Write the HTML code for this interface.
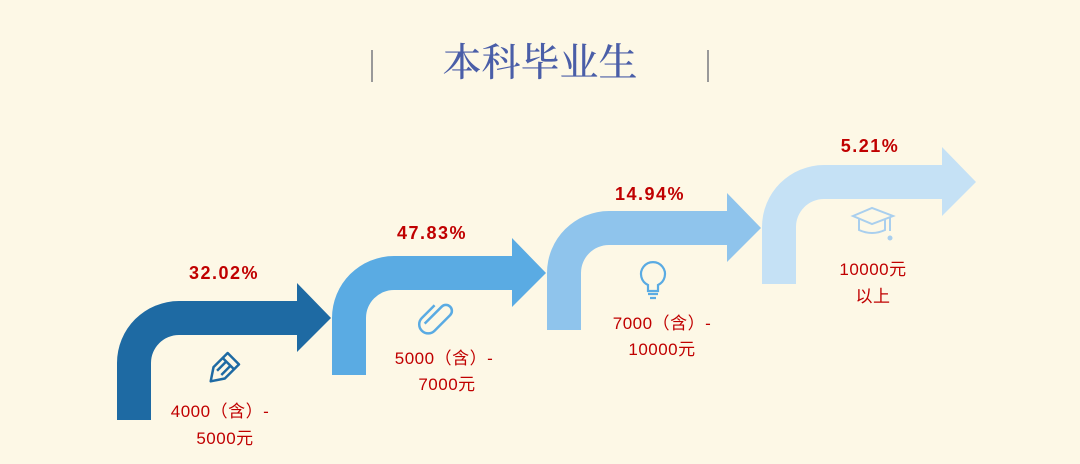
<!DOCTYPE html>
<html><head><meta charset="utf-8"><style>
html,body{margin:0;padding:0;background:#fdf8e6;}
svg{display:block}
.p{font-family:"Liberation Sans","Noto Sans CJK SC",sans-serif;font-weight:bold;font-size:18px;fill:#c00000;text-anchor:middle;letter-spacing:1.5px}
.l{font-family:"Liberation Sans","Noto Sans CJK SC",sans-serif;font-size:17px;fill:#c00000;text-anchor:middle;letter-spacing:0.5px}
</style></head><body>
<svg width="1080" height="464" viewBox="0 0 1080 464" xmlns="http://www.w3.org/2000/svg">
<rect width="1080" height="464" fill="#fdf8e6"/>
<text x="540" y="76" text-anchor="middle" font-family="'Noto Serif CJK SC','Liberation Serif',serif" font-size="39" font-weight="500" fill="#4a5ea8">本科毕业生</text>
<rect x="371" y="50" width="2" height="32" fill="#999"/>
<rect x="707" y="50" width="2" height="32" fill="#999"/>
<defs><path id="a" d="M117,420 V363 A62,62 0 0 1 179,301 H297 V283 L331,318 L297,352 V335 H179 A28,28 0 0 0 151,363 V420 Z"/></defs>
<use href="#a" fill="#1e6aa3"/>
<use href="#a" fill="#5aabe3" transform="translate(215,-45)"/>
<use href="#a" fill="#8fc4ec" transform="translate(430,-90)"/>
<use href="#a" fill="#c5e1f5" transform="translate(645,-136)"/>
<text class="p" x="224" y="279">32.02%</text>
<text class="p" x="432" y="239">47.83%</text>
<text class="p" x="650" y="200">14.94%</text>
<text class="p" x="870" y="152">5.21%</text>
<text class="l" x="220" y="417">4000（含）-</text>
<text class="l" x="225" y="444">5000元</text>
<text class="l" x="444" y="364">5000（含）-</text>
<text class="l" x="447" y="390">7000元</text>
<text class="l" x="662" y="329">7000（含）-</text>
<text class="l" x="662" y="355">10000元</text>
<text class="l" x="873" y="275">10000元</text>
<text class="l" x="873" y="302">以上</text>
<g transform="translate(222,370) rotate(45)" fill="none" stroke="#1e6aa3" stroke-width="2.5" stroke-linejoin="round">
<path d="M-8,-16 h16 v20 l-8,12 l-8,-12 z"/><path d="M-8,-9 h16 M-3,-9 v13 M3,-9 v13"/></g>
<g transform="translate(436,318) rotate(45)" fill="none" stroke="#5aabe3" stroke-width="2.5">
<path d="M-4,12 V-12 a6,6 0 0 1 12,0 V10 a9,9 0 0 1 -18,0 V-8"/></g>
<g fill="none" stroke="#5aabe3" stroke-width="2.2">
<path d="M648,285 a12,12 0 1 1 10,0 v6 h-10 z"/><path d="M648,294 h10 M650,298 h6"/></g>
<g fill="none" stroke="#a9cfee" stroke-width="2">
<path d="M853,216 L872,208 L893,216 L872,224 Z"/><path d="M859,219 v11 q13,6 26,0 v-11"/><path d="M890,217 v14"/></g>
<circle cx="890" cy="238" r="2.5" fill="#a9cfee"/>
</svg>
</body></html>
